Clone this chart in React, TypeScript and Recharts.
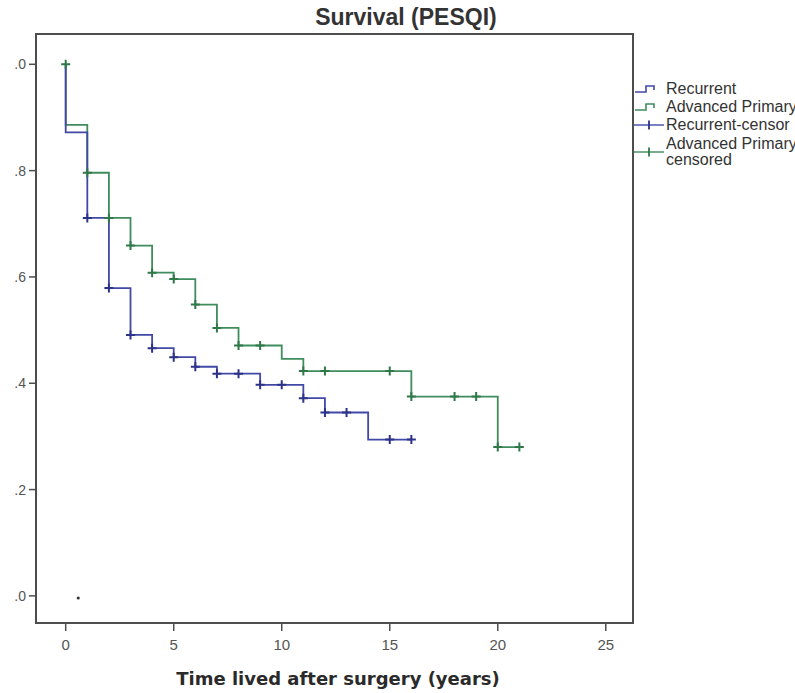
import React from "react";
import {
  ComposedChart,
  Line,
  Scatter,
  XAxis,
  YAxis,
  ReferenceArea,
} from "recharts";

// ---- data ----
const recurrentCurve = [
  { t: 0, s: 1.0 },
  { t: 0, s: 0.872 },
  { t: 1, s: 0.711 },
  { t: 2, s: 0.579 },
  { t: 3, s: 0.491 },
  { t: 4, s: 0.466 },
  { t: 5, s: 0.449 },
  { t: 6, s: 0.431 },
  { t: 7, s: 0.418 },
  { t: 9, s: 0.397 },
  { t: 11, s: 0.372 },
  { t: 12, s: 0.345 },
  { t: 14, s: 0.294 },
  { t: 16, s: 0.294 },
];

const primaryCurve = [
  { t: 0, s: 1.0 },
  { t: 0, s: 0.886 },
  { t: 1, s: 0.796 },
  { t: 2, s: 0.711 },
  { t: 3, s: 0.659 },
  { t: 4, s: 0.608 },
  { t: 5, s: 0.596 },
  { t: 6, s: 0.548 },
  { t: 7, s: 0.504 },
  { t: 8, s: 0.471 },
  { t: 10, s: 0.446 },
  { t: 11, s: 0.423 },
  { t: 16, s: 0.375 },
  { t: 20, s: 0.28 },
  { t: 21, s: 0.28 },
];

const recurrentCensor = [
  { t: 1, s: 0.711 },
  { t: 2, s: 0.579 },
  { t: 3, s: 0.491 },
  { t: 4, s: 0.466 },
  { t: 5, s: 0.449 },
  { t: 6, s: 0.431 },
  { t: 7, s: 0.418 },
  { t: 8, s: 0.418 },
  { t: 9, s: 0.397 },
  { t: 10, s: 0.397 },
  { t: 11, s: 0.372 },
  { t: 12, s: 0.345 },
  { t: 13, s: 0.345 },
  { t: 15, s: 0.294 },
  { t: 16, s: 0.294 },
];

const primaryCensor = [
  { t: 0, s: 1.0 },
  { t: 1, s: 0.796 },
  { t: 2, s: 0.711 },
  { t: 3, s: 0.659 },
  { t: 4, s: 0.608 },
  { t: 5, s: 0.596 },
  { t: 6, s: 0.548 },
  { t: 7, s: 0.504 },
  { t: 8, s: 0.471 },
  { t: 9, s: 0.471 },
  { t: 11, s: 0.423 },
  { t: 12, s: 0.423 },
  { t: 15, s: 0.423 },
  { t: 16, s: 0.375 },
  { t: 18, s: 0.375 },
  { t: 19, s: 0.375 },
  { t: 20, s: 0.28 },
  { t: 21, s: 0.28 },
];

const strayMark = [{ t: 0.58, s: -0.004 }];

const xTicks = [0, 5, 10, 15, 20, 25];
const yTicks = [0, 0.2, 0.4, 0.6, 0.8, 1.0];
const xDomain: [number, number] = [-1.375, 26.26];
const yDomain: [number, number] = [-0.051, 1.057];

const legendLabels = ["Recurrent", "Advanced Primary", "Recurrent-censor", "Advanced Primary", "censored"];
const titleText = "Survival (PESQI)";
const xTitle = "Time lived after surgery (years)";

// ---- styles ----
const BLUE = "#4149a6";
const GREEN = "#3f8c5c";
const BLUE_DARK = "#2c3288";
const GREEN_DARK = "#2f7848";
const FRAME = "#4d4d4d";

const yFmt = (v: number) => (v === 1 ? "1.0" : v.toFixed(1).replace(/^0/, ""));

const plusShape = (color: string) => (props: any) => {
  const { cx, cy } = props;
  if (cx == null || cy == null) return <g />;
  return (
    <path
      d={`M${cx - 4.5},${cy}h9M${cx},${cy - 4.5}v9`}
      stroke={color}
      strokeWidth={2}
      fill="none"
    />
  );
};

const dotShape = (props: any) => {
  const { cx, cy } = props;
  if (cx == null || cy == null) return <g />;
  return <circle cx={cx} cy={cy} r={1.6} fill="#333" />;
};

const XTitle = (props: any) => {
  const vb = props.viewBox || {};
  const cx = (vb.x ?? 0) + (vb.width ?? 0) / 2 + 3.5;
  return (
    <text
      x={cx}
      y={685}
      textAnchor="middle"
      fontFamily="'DejaVu Sans', sans-serif"
      fontWeight="bold"
      fontSize={18}
      fill="#2a2a2a"
    >
      {xTitle}
    </text>
  );
};

const LegendSymbolStep = ({ color }: { color: string }) => (
  <svg width={32} height={14} style={{ display: "block", flex: "none" }}>
    <path d="M1,10 H12 V4 H20 V8" stroke={color} strokeWidth={1.6} fill="none" />
  </svg>
);

const LegendSymbolCensor = ({ color, dark }: { color: string; dark: string }) => (
  <svg width={32} height={14} style={{ display: "block", flex: "none" }}>
    <path d="M0,7 H30" stroke={color} strokeWidth={1.4} fill="none" />
    <path d="M15,2.5 V11.5" stroke={dark} strokeWidth={1.8} fill="none" />
  </svg>
);

const legendText: React.CSSProperties = {
  fontFamily: "'Liberation Sans', Arial, sans-serif",
  fontSize: 16,
  color: "#333",
  lineHeight: "16px",
  whiteSpace: "nowrap",
};

export default function App() {
  return (
    <>
      <style>{`html,body{margin:0;padding:0;overflow:hidden;background:#fff}`}</style>
      <div
        style={{
          position: "fixed",
          left: 0,
          top: 0,
          width: 795,
          height: 693,
          overflow: "hidden",
          background: "#fff",
        }}
      >
        <div style={{ position: "absolute", left: 14, top: 0 }}>
          <ComposedChart
            width={781}
            height={693}
            margin={{ top: 34, right: 162, bottom: 0, left: 0 }}
          >
            <XAxis
              dataKey="t"
              type="number"
              domain={xDomain}
              ticks={xTicks}
              allowDataOverflow
              height={70}
              stroke={FRAME}
              axisLine={{ stroke: FRAME, strokeWidth: 2 }}
              tickLine={{ stroke: FRAME, strokeWidth: 1.5 }}
              tickSize={8}
              tickMargin={8}
              tick={{ fontFamily: "'Liberation Sans', Arial, sans-serif", fontSize: 15, fill: "#555" }}
              label={{ content: XTitle } as any}
            />
            <YAxis
              type="number"
              domain={yDomain}
              ticks={yTicks}
              allowDataOverflow
              width={22}
              tickFormatter={yFmt}
              axisLine={{ stroke: FRAME, strokeWidth: 2 }}
              tickLine={{ stroke: FRAME, strokeWidth: 1.5 }}
              tickSize={7}
              tickMargin={3}
              tick={{ fontFamily: "'Liberation Sans', Arial, sans-serif", fontSize: 14, fill: "#555" }}
            />
            <ReferenceArea
              x1={xDomain[0]}
              x2={xDomain[1]}
              y1={yDomain[0]}
              y2={yDomain[1]}
              fill="none"
              fillOpacity={0}
              stroke={FRAME}
              strokeWidth={2}
              ifOverflow="visible"
            />
            <Line
              data={primaryCurve}
              dataKey="s"
              type="stepAfter"
              stroke={GREEN}
              strokeWidth={1.8}
              dot={false}
              activeDot={false}
              isAnimationActive={false}
            />
            <Line
              data={recurrentCurve}
              dataKey="s"
              type="stepAfter"
              stroke={BLUE}
              strokeWidth={1.8}
              dot={false}
              activeDot={false}
              isAnimationActive={false}
            />
            <Scatter
              data={recurrentCensor}
              dataKey="s"
              shape={plusShape(BLUE_DARK)}
              isAnimationActive={false}
            />
            <Scatter
              data={primaryCensor}
              dataKey="s"
              shape={plusShape(GREEN_DARK)}
              isAnimationActive={false}
            />
            <Scatter
              data={strayMark}
              dataKey="s"
              shape={dotShape}
              isAnimationActive={false}
            />
          </ComposedChart>
        </div>

        {/* title */}
        <div
          style={{
            position: "absolute",
            left: 306,
            top: 4,
            width: 200,
            textAlign: "center",
            fontFamily: "'Liberation Sans', Arial, sans-serif",
            fontWeight: "bold",
            fontSize: 23,
            lineHeight: "26px",
            color: "#333",
            whiteSpace: "nowrap",
          }}
        >
          {titleText}
        </div>

        {/* legend */}
        <div style={{ position: "absolute", left: 634, top: 80, width: 220 }}>
          <div style={{ display: "flex", alignItems: "center", height: 18 }}>
            <LegendSymbolStep color={BLUE} />
            <span style={legendText}>{legendLabels[0]}</span>
          </div>
          <div style={{ display: "flex", alignItems: "center", height: 18 }}>
            <LegendSymbolStep color={GREEN} />
            <span style={legendText}>{legendLabels[1]}</span>
          </div>
          <div style={{ display: "flex", alignItems: "center", height: 18 }}>
            <LegendSymbolCensor color={BLUE} dark={BLUE_DARK} />
            <span style={legendText}>{legendLabels[2]}</span>
          </div>
          <div style={{ display: "flex", alignItems: "center", height: 34, marginTop: 1 }}>
            <LegendSymbolCensor color={GREEN} dark={GREEN_DARK} />
            <span style={{ ...legendText, lineHeight: "16px" }}>
              {legendLabels[3]}
              <br />
              {legendLabels[4]}
            </span>
          </div>
        </div>
      </div>
    </>
  );
}
